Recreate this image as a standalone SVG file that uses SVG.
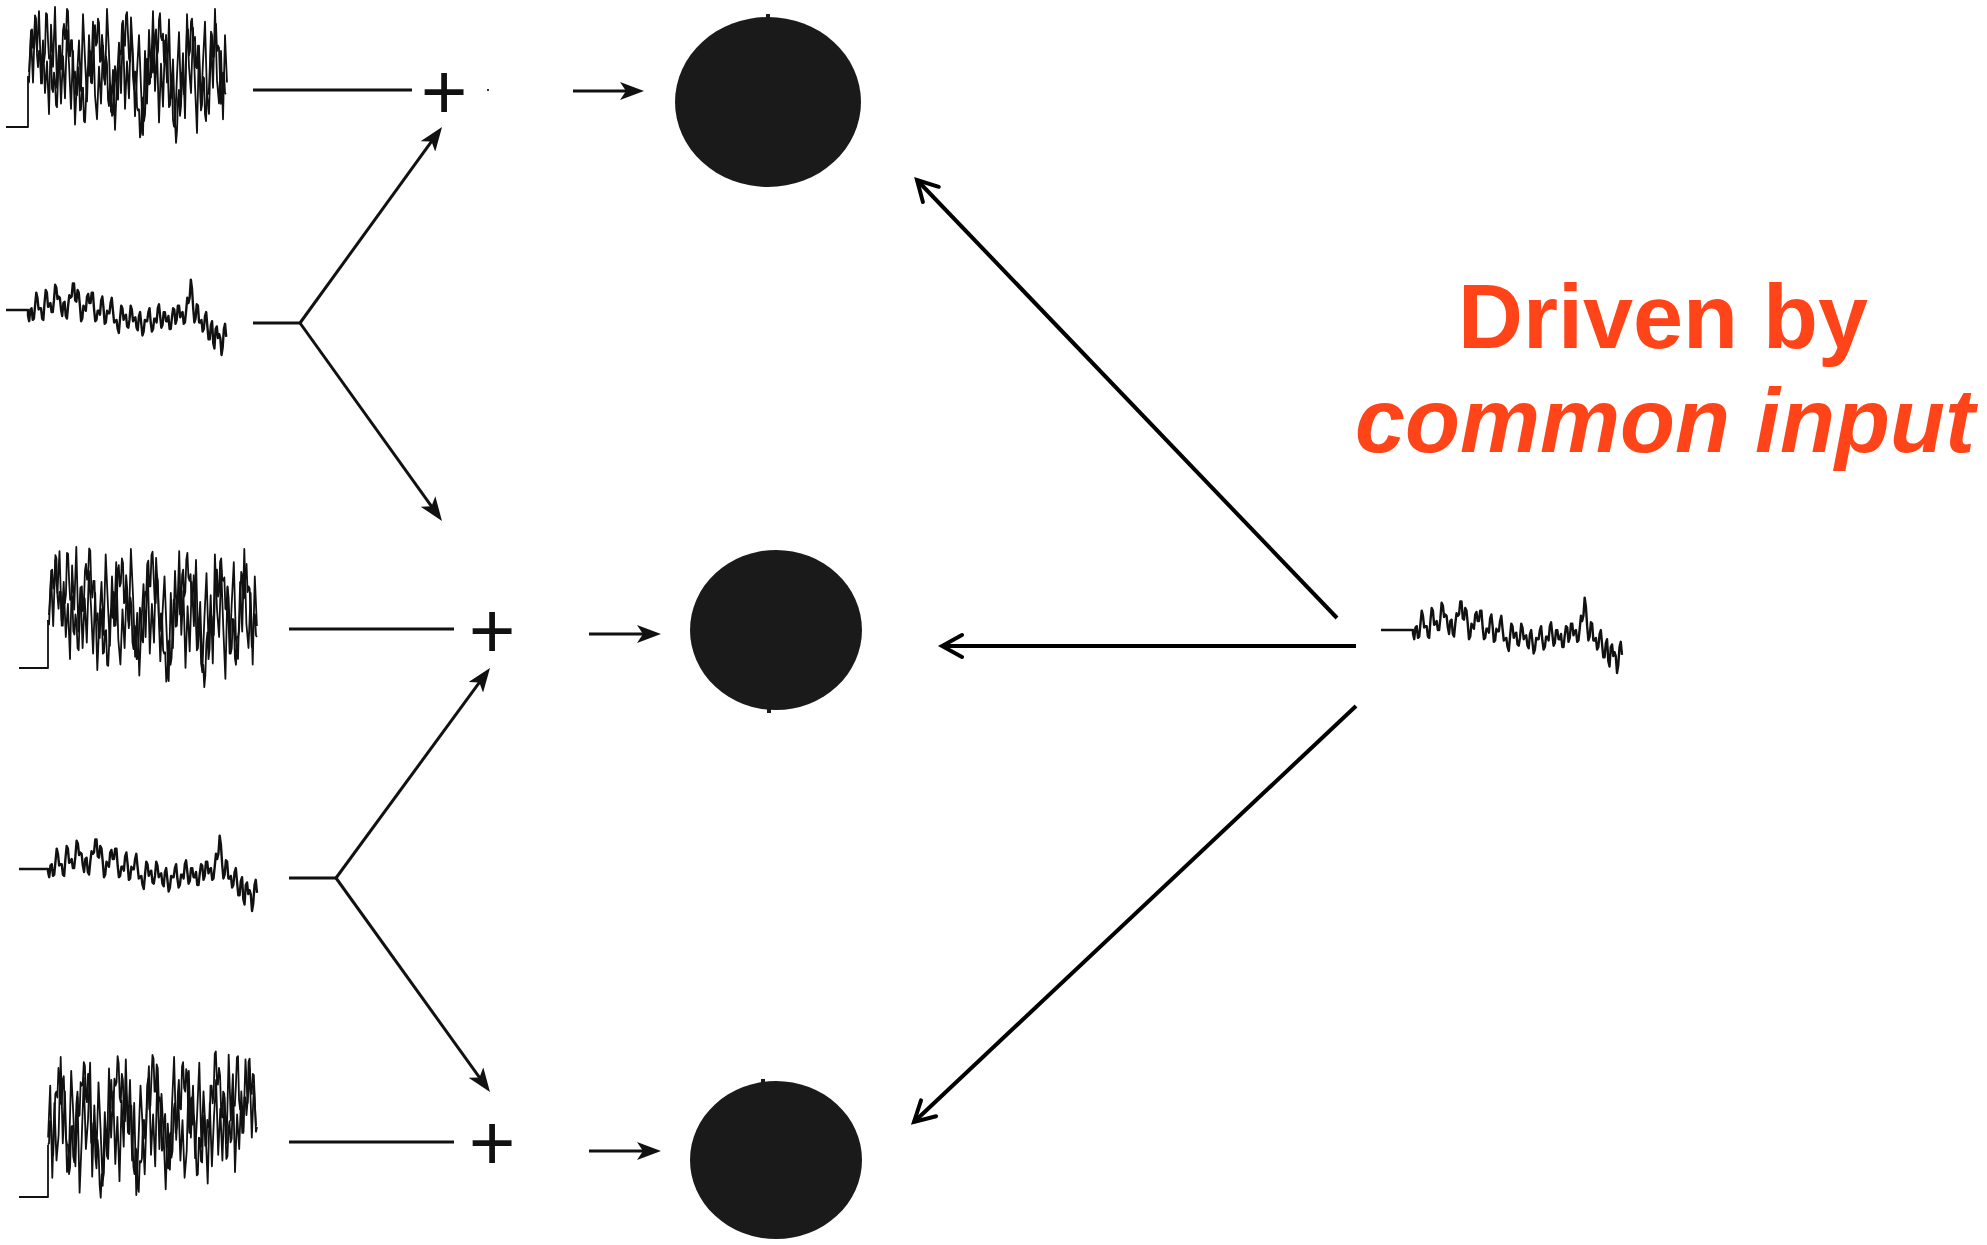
<svg xmlns="http://www.w3.org/2000/svg" xmlns:xlink="http://www.w3.org/1999/xlink" width="1987" height="1245" viewBox="0 0 1987 1245">
<style>
.trace{fill:none;stroke:#111;stroke-width:1.8;stroke-linejoin:round}
.wk{stroke-width:2.4}
.conn{fill:none;stroke:#111;stroke-width:3}
.common{fill:none;stroke:#000;stroke-width:4;stroke-linecap:butt}
.cell{fill:#1a1a1a}
.plus{font-family:"Liberation Sans",Arial,sans-serif;font-size:80px;fill:#111;text-anchor:middle}
.label{font-family:"Liberation Sans",Arial,sans-serif;font-weight:bold;font-size:90px;fill:#FF4419;text-anchor:middle}
</style>
<defs>
<polyline id="strongA" vector-effect="non-scaling-stroke" points="0,0 2,-35 4,10 6,-50 8,-20 10,-58 12,5 14,-30 16,20 18,-10 20,40 22,-45 24,-5 26,-62 28,15 30,-25 32,30 34,-15 36,25 38,-40 40,-8 42,35 44,-20 46,50 48,5 50,-30 52,18 54,-55 56,-12 58,28 60,-35 62,10 64,-48 66,22 68,45 70,-5 72,30 74,-25 76,12 78,-60 80,-18 82,38 84,-2 86,55 88,8 90,-28 92,20 94,-45 96,35 98,-10 100,25 102,-52 104,-15 106,42 108,0 110,-35 112,15 114,60 116,-20 118,30 120,-40 122,5 124,-58 126,18 128,-22 130,48 132,-8 134,33 136,-30 138,10 140,-50 142,25 144,-12 146,52 148,3 150,-38 152,28 154,-18 156,44 158,-55 160,-5 162,20 164,-42 166,12 168,58 170,-25 172,35 174,-10 176,-48 178,22 180,40 182,-30 184,15 186,-60 188,8 190,30 192,-20 194,45 196,-35 198,10"/>
<polyline id="strongB" vector-effect="non-scaling-stroke" points="0,0 1,4 2,-20 3,-44 4,-45 5,-28 6,-30 7,-58 8,-55 9,-21 10,-10 11,-25 12,-25 13,5 14,5 15,-18 16,-15 17,-23 18,-60 19,-59 20,-35 21,-18 22,-20 23,-21 24,10 25,13 26,-5 27,2 28,25 29,27 30,0 31,-28 32,-30 33,-8 34,-15 35,-44 36,-50 37,-36 38,-40 39,-64 40,-62 41,-30 42,-20 43,-35 44,-35 45,-2 46,0 47,-6 48,15 49,16 50,-10 51,-2 52,30 53,29 54,10 55,9 56,40 57,41 58,20 59,-3 60,-10 61,-2 62,-25 63,-23 64,5 65,-6 66,-45 67,-49 68,-30 69,-33 70,-55 71,-51 72,-15 73,-16 74,-40 75,-28 76,0 77,5 78,-20 79,-13 80,20 81,26 82,5 83,8 84,35 85,34 86,15 87,-11 88,-5 89,18 90,20 91,-10 92,-25 93,-22 94,-50 95,-53 96,-30 97,-30 98,-58 99,-61 100,-40 101,-18 102,-15 103,-41 104,-35 105,-1 106,10 107,-6 108,-5 109,27 110,30 111,29 112,55 113,51 114,20 115,18 116,40 117,34 118,10 119,-18 120,-15 121,6 122,5 123,-20 124,-30 125,-5 126,-10 127,-40 128,-45 129,-21 130,-25 131,-54 132,-60 133,-38 134,-35 135,-41 136,-15 137,-16 138,-40 139,-28 140,0 141,27 142,25 143,2 144,5 145,39 146,45 147,40 148,60 149,49 150,20 151,11 152,35 153,26 154,-5 155,-3 156,15 157,13 158,-20 159,-45 160,-45 161,-21 162,-25 163,-52 164,-55 165,-36 166,-35 167,-38 168,-10 169,-9 170,-30 171,-20 172,5 173,30 174,25 175,-1 176,0 177,34 178,40 179,15 180,15 181,9 182,-15 183,-43 184,-40 185,-19 186,-20 187,-43 188,-50 189,-25 190,-30 191,-28 192,0 193,24 194,20 195,-5 196,-5 197,14 198,15"/>
<polyline id="weak" vector-effect="non-scaling-stroke" points="0,0 1,4 2,-5 3,-6 4,3 5,2 6,-8 7,-18 8,-14 9,-5 10,-6 11,-6 12,2 13,3 14,-10 15,-20 16,-18 17,-7 18,-8 19,-10 20,-3 21,-3 22,-12 23,-24 24,-22 25,-13 26,-15 27,-14 28,-5 29,0 30,-10 31,-11 32,0 33,2 34,-8 35,-16 36,-14 37,-15 38,-25 39,-25 40,-12 41,-11 42,-20 43,-18 44,-8 45,4 46,2 47,-8 48,-6 49,-4 50,-15 51,-17 52,-10 53,-10 54,-18 55,-18 56,-5 57,4 58,3 59,-4 60,-4 61,-1 62,-12 63,-15 64,-6 65,6 66,5 67,-4 68,-2 69,-2 70,-10 71,-14 72,-4 73,5 74,4 75,3 76,10 77,13 78,2 79,-8 80,-6 81,3 82,0 83,-1 84,8 85,9 86,3 87,-8 88,-5 89,4 90,2 91,1 92,9 93,11 94,0 95,-3 96,6 97,15 98,12 99,3 100,4 101,4 102,-3 103,-6 104,5 105,12 106,10 107,2 108,2 109,5 110,-6 111,-9 112,0 113,9 114,7 115,-3 116,-3 117,4 118,4 119,0 120,10 121,10 122,1 123,-6 124,-5 125,6 126,3 127,-8 128,-8 129,1 130,-2 131,-3 132,6 133,5 134,-4 135,-14 136,-10 137,-14 138,-28 139,-21 140,-6 141,5 142,2 143,-9 144,-8 145,5 146,5 147,3 148,12 149,10 150,0 151,-3 152,8 153,18 154,18 155,7 156,4 157,21 158,25 159,10 160,8 161,17 162,14 163,17 164,30 165,24 166,10 167,6 168,16"/>
<marker id="fillhead" markerUnits="userSpaceOnUse" viewBox="0 0 24 18" markerWidth="24" markerHeight="18" refX="12" refY="9" orient="auto">
<path d="M0,0 L24,9 L0,18 L6,9 z" fill="#111"/>
</marker>
<marker id="openhead" markerUnits="userSpaceOnUse" viewBox="0 0 28 28" markerWidth="28" markerHeight="28" refX="24" refY="14" orient="auto">
<path d="M4,3 L24,14 L4,25" fill="none" stroke="#000" stroke-width="4" stroke-linecap="round" stroke-linejoin="miter"/>
</marker>
</defs>
<rect width="1987" height="1245" fill="#fff"/>

<g id="trace1" class="trace">
<path d="M6,127 H28 V76"/>
<use xlink:href="#strongB" href="#strongB" transform="translate(28,78) scale(1,1.08)"/>
<use xlink:href="#strongA" href="#strongA" transform="translate(29,72) scale(1,1.05)"/>
</g>
<g id="trace2" class="trace wk">
<path d="M6,310 H28 V316"/>
<use xlink:href="#weak" href="#weak" transform="translate(28,316) scale(1.18,1.3)"/>
</g>
<g id="trace3" class="trace">
<path d="M19,668 H48 V620"/>
<use xlink:href="#strongB" href="#strongB" transform="translate(48,620) scale(1.056,1.12)"/>
<use xlink:href="#strongA" href="#strongA" transform="translate(49,615) scale(1.05,1.1)"/>
</g>
<g id="trace4" class="trace wk">
<path d="M19,869 H48 V872"/>
<use xlink:href="#weak" href="#weak" transform="translate(48,872) scale(1.244,1.3)"/>
</g>
<g id="trace5" class="trace">
<path d="M19,1197 H48 V1145"/>
<use xlink:href="#strongB" href="#strongB" transform="translate(257,1127) scale(-1.056,1.18)"/>
<use xlink:href="#strongA" href="#strongA" transform="translate(256,1126) scale(-1.05,1.15)"/>
</g>
<g id="trace-common" class="trace wk">
<path d="M1381,630 H1413 V634"/>
<use xlink:href="#weak" href="#weak" transform="translate(1413,634) scale(1.244,1.3)"/>
</g>

<g id="sum1"><text class="plus" x="444" y="119">+</text><rect x="487" y="89" width="2" height="2" fill="#333"/></g>
<g id="sum2"><text class="plus" x="492" y="658">+</text></g>
<g id="sum3"><text class="plus" x="492" y="1170">+</text></g>

<g id="neuron1"><ellipse class="cell" cx="768" cy="102" rx="93" ry="85"/><rect x="766" y="14" width="4" height="6" fill="#1a1a1a"/></g>
<g id="neuron2"><ellipse class="cell" cx="776" cy="630" rx="86" ry="80"/><rect x="767" y="706" width="4" height="7" fill="#1a1a1a"/></g>
<g id="neuron3"><ellipse class="cell" cx="776" cy="1160" rx="86" ry="79"/><rect x="761" y="1079" width="4" height="7" fill="#1a1a1a"/></g>

<g id="label">
<text class="label" x="1663" y="348">Driven by</text>
<text class="label" x="1665" y="452" font-style="italic">common input</text>
</g>

<g id="connectors">
<line class="conn" x1="253" y1="90" x2="412" y2="90"/>
<line class="conn" x1="573" y1="91" x2="632" y2="91" marker-end="url(#fillhead)"/>
<line class="conn" x1="253" y1="323" x2="300" y2="323"/>
<line class="conn" x1="300" y1="323" x2="435" y2="136.7" marker-end="url(#fillhead)"/>
<line class="conn" x1="300" y1="323" x2="435" y2="511.2" marker-end="url(#fillhead)"/>
<line class="conn" x1="289" y1="629" x2="454" y2="629"/>
<line class="conn" x1="589" y1="634" x2="649" y2="634" marker-end="url(#fillhead)"/>
<line class="conn" x1="289" y1="878" x2="336" y2="878"/>
<line class="conn" x1="336" y1="878" x2="482.9" y2="677.7" marker-end="url(#fillhead)"/>
<line class="conn" x1="336" y1="878" x2="483" y2="1082.3" marker-end="url(#fillhead)"/>
<line class="conn" x1="289" y1="1142" x2="454" y2="1142"/>
<line class="conn" x1="589" y1="1151" x2="649" y2="1151" marker-end="url(#fillhead)"/>
<line class="common" x1="1337" y1="618" x2="917" y2="180" marker-end="url(#openhead)"/>
<line class="common" x1="1356" y1="646" x2="942" y2="646" marker-end="url(#openhead)"/>
<line class="common" x1="1356" y1="706" x2="914" y2="1122" marker-end="url(#openhead)"/>
</g>
</svg>
